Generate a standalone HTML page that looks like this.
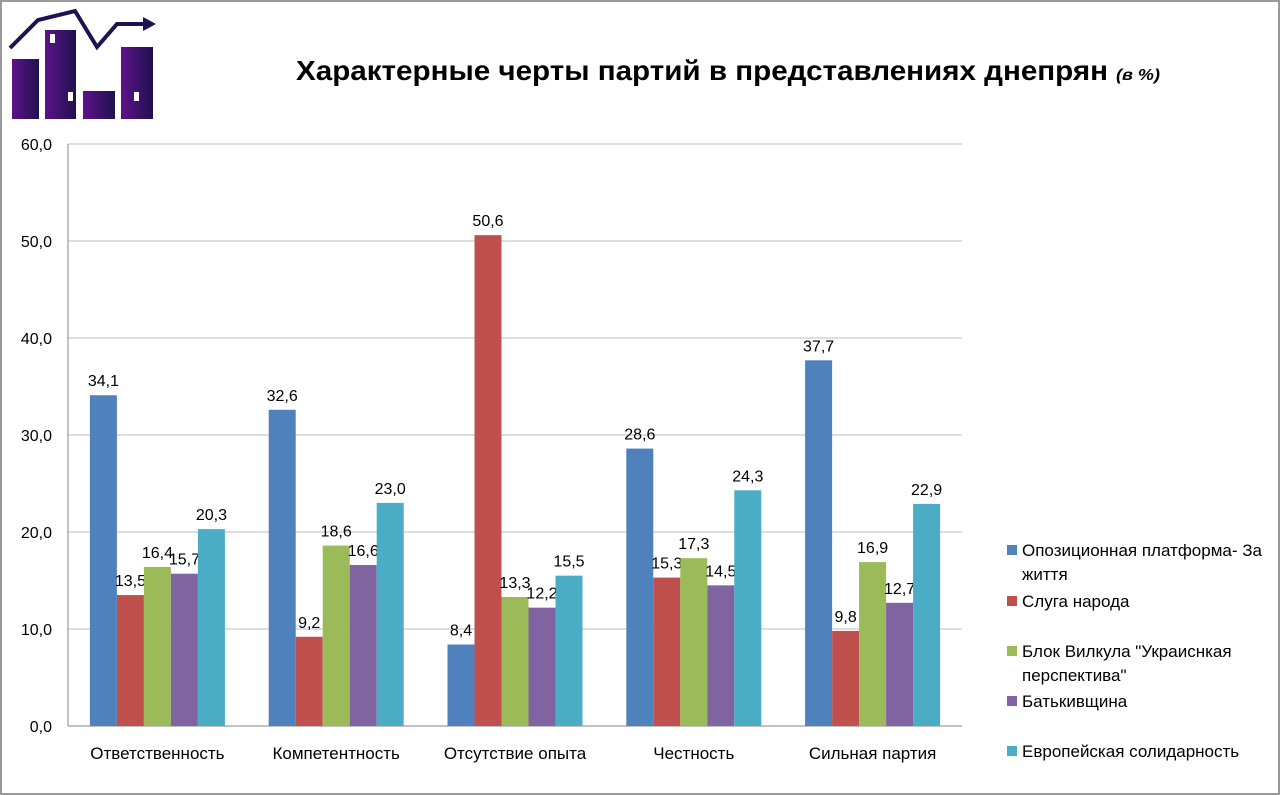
<!DOCTYPE html>
<html><head><meta charset="utf-8"><style>
body{margin:0;background:#fff;}
#wrap{position:relative;width:1280px;height:795px;overflow:hidden;font-family:"Liberation Sans","DejaVu Sans",sans-serif;}
#frame{position:absolute;left:0;top:0;width:1276px;height:791px;border:2px solid #9a9a9a;}
</style></head><body>
<div id="wrap">
<div id="frame"></div>
<svg width="1280" height="795" style="position:absolute;left:0;top:0">
<defs><linearGradient id="lg" x1="0" x2="1"><stop offset="0" stop-color="#5e1289"/><stop offset="1" stop-color="#1e1250"/></linearGradient></defs>
<g>
<rect x="12" y="59" width="27" height="60" fill="url(#lg)"/>
<rect x="45" y="30" width="31" height="89" fill="url(#lg)"/>
<rect x="83" y="91" width="32" height="28" fill="url(#lg)"/>
<rect x="121" y="47" width="32" height="72" fill="url(#lg)"/>
<rect x="50" y="34" width="5" height="9" fill="#fff"/><rect x="68" y="92" width="5" height="9" fill="#fff"/><rect x="134" y="92" width="5" height="9" fill="#fff"/>
<polyline points="10,48 38,20 75,11 97,47 117,24 145,24" fill="none" stroke="#1e1250" stroke-width="4"/>
<polygon points="143,17 156,24 143,31" fill="#1e1250"/>
</g>
<text y="80" font-weight="bold" fill="#000" font-family="Liberation Sans, sans-serif"><tspan x="296" font-size="28" textLength="812" lengthAdjust="spacingAndGlyphs">Характерные черты партий в представлениях днепрян</tspan><tspan x="1116" font-size="16" font-style="italic" textLength="44" lengthAdjust="spacingAndGlyphs">(в %)</tspan></text>
<g id="plot"></g>
</svg>
</div>
<script>
const categories=["Ответственность","Компетентность","Отсутствие опыта","Честность","Сильная партия"];
const seriesNames=["Опозиционная платформа- За життя","Слуга народа","Блок Вилкула \"Украиснкая перспектива\"","Батькивщина","Европейская солидарность"];
const s1=[34.1,32.6,8.4,28.6,37.7];
const s2=[13.5,9.2,50.6,15.3,9.8];
const s3=[16.4,18.6,13.3,17.3,16.9];
const s4=[15.7,16.6,12.2,14.5,12.7];
const s5=[20.3,23.0,15.5,24.3,22.9];
const yTicks=[0,10,20,30,40,50,60];
const colors=["#4f81bd","#c0504d","#9bbb59","#8064a2","#4bacc6"];
const series=[s1,s2,s3,s4,s5];
const NS="http://www.w3.org/2000/svg";
const g=document.getElementById('plot');
const X0=68,X1=962,Y0=726,Y1=144,YMAX=60;
const y=v=>Y0-(v/YMAX)*(Y0-Y1);
const gw=(X1-X0)/categories.length;
const bw=27;
function el(t,a,txt){const e=document.createElementNS(NS,t);for(const k in a)e.setAttribute(k,a[k]);if(txt!=null)e.textContent=txt;g.appendChild(e);return e;}
yTicks.forEach(t=>{
  const l=el('line',{x1:X0,x2:X1,y1:y(t),y2:y(t),stroke:t===0?'#868686':'#bcbcbc','stroke-width':1});
  
  
  const tx=el('text',{x:52,y:y(t)+6,'text-anchor':'end','font-size':16,fill:'#000'},t.toFixed(1).replace('.',','));
  
  
});
const ax=el('line',{x1:X0,x2:X0,y1:Y1,y2:Y0,stroke:'#868686'});


categories.forEach((c,i)=>{
  const gx=X0+i*gw;
  const start=gx+(gw-bw*5)/2;
  series.forEach((s,j)=>{
    const v=s[i];
    const r=el('rect',{x:start+j*bw,y:y(v),width:bw,height:Y0-y(v),fill:colors[j]});
    
    
    const t=el('text',{x:start+j*bw+bw/2,y:y(v)-9,'text-anchor':'middle','font-size':16,fill:'#000'},v.toFixed(1).replace('.',','));
    
    
  });
  const ct=el('text',{x:gx+gw/2,y:759,'text-anchor':'middle','font-size':17,fill:'#000'},c);
  
  
});
const legY=[556,607,657,707,757];
const wrapped=[["Опозиционная платформа- За","життя"],["Слуга народа"],["Блок Вилкула \"Украиснкая","перспектива\""],["Батькивщина"],["Европейская солидарность"]];
seriesNames.forEach((n,j)=>{
  const r=el('rect',{x:1007,y:legY[j]-11,width:10,height:10,fill:colors[j]});
  
  
  wrapped[j].forEach((line,k)=>{
    const t=el('text',{x:1022,y:legY[j]+k*24,'font-size':17,fill:'#000'},line);
    
    
  });
});
</script>
</body></html>
